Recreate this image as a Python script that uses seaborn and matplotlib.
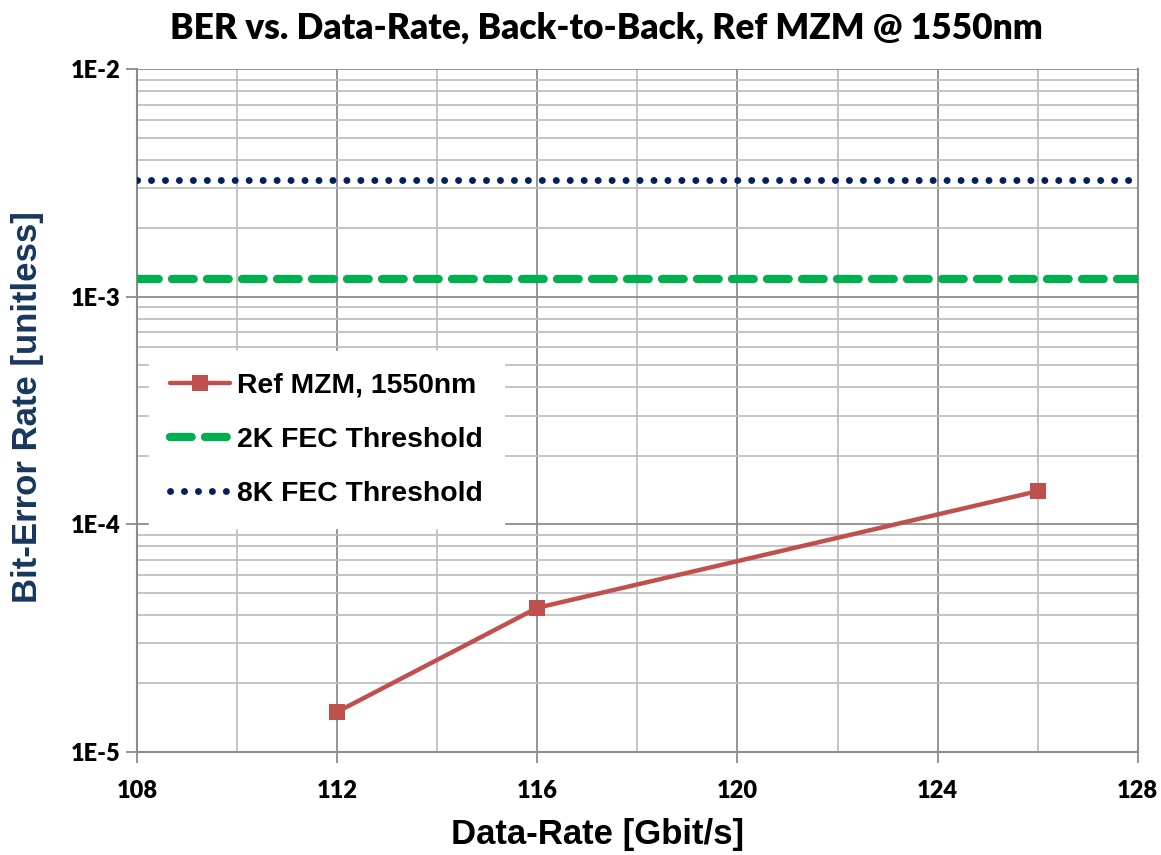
import matplotlib
matplotlib.use("Agg")
import matplotlib.pyplot as plt
import seaborn as sns
import numpy as np
import pandas as pd
from matplotlib.ticker import FixedLocator, NullFormatter, LogLocator

# Data
data_rate = [112, 116, 126]
ber_ref = [1.5e-5, 4.3e-5, 1.4e-4]
fec_x = [108, 128]
fec_2k = [1.2e-3, 1.2e-3]
fec_8k = [3.25e-3, 3.25e-3]
x_ticks = [108, 112, 116, 120, 124, 128]
y_ticks = [1e-5, 1e-4, 1e-3, 1e-2]
y_tick_labels = ["1E-5", "1E-4", "1E-3", "1E-2"]

sns.set_theme(style="white")
plt.rcParams['font.family'] = ['Liberation Sans', 'DejaVu Sans']
plt.rcParams['text.color'] = 'black'

fig = plt.figure(figsize=(11.61, 8.55), dpi=100)
ax = fig.add_axes([0.118, 0.1205, 0.862, 0.7985])

df_ref = pd.DataFrame({"x": data_rate, "y": ber_ref})
df_2k = pd.DataFrame({"x": fec_x, "y": fec_2k})
df_8k = pd.DataFrame({"x": fec_x, "y": fec_8k})

sns.lineplot(data=df_ref, x="x", y="y", ax=ax, color="#C0504D", lw=3.2,
             marker="s", markersize=12, markeredgewidth=0,
             label="Ref MZM, 1550nm", zorder=5)
sns.lineplot(data=df_2k, x="x", y="y", ax=ax, color="#00B050", lw=6,
             dashes=False, label="2K FEC Threshold", zorder=4)
ax.lines[-1].set_linestyle((0, (2.6, 1.6)))
ax.lines[-1].set_dash_capstyle("round")
sns.lineplot(data=df_8k, x="x", y="y", ax=ax, color="#002060", lw=5,
             label="8K FEC Threshold", zorder=4)
ax.lines[-1].set_linestyle((0, (0.01, 2.0)))
ax.lines[-1].set_dash_capstyle("round")

ax.set_yscale("log")
ax.set_xlim(108, 128)
ax.set_ylim(1e-5, 1e-2)

ax.xaxis.set_major_locator(FixedLocator(x_ticks))
ax.xaxis.set_minor_locator(FixedLocator([110, 114, 118, 122, 126]))
ax.yaxis.set_major_locator(FixedLocator(y_ticks))
ax.yaxis.set_minor_locator(LogLocator(base=10, subs=np.arange(2, 10)))
ax.yaxis.set_minor_formatter(NullFormatter())
ax.set_xticklabels([str(t) for t in x_ticks])
ax.set_yticklabels(y_tick_labels)

ax.grid(which="major", color="#8C8C8C", lw=1.3)
ax.grid(which="minor", color="#BFBFBF", lw=1.3)
ax.set_axisbelow(True)

for s in ["left", "bottom", "right", "top"]:
    ax.spines[s].set_color("#8C8C8C")
    ax.spines[s].set_linewidth(1.5)
ax.spines["top"].set_visible(False)

ax.tick_params(axis="both", which="major", length=8, width=1.3, color="#8C8C8C",
               direction="out", bottom=True, left=True)
ax.tick_params(axis="y", which="major", pad=4)
ax.tick_params(axis="x", which="major", pad=12)
ax.tick_params(axis="both", which="minor", length=0)
for lab in ax.get_xticklabels() + ax.get_yticklabels():
    lab.set_fontfamily(["Lato", "DejaVu Sans"])
    lab.set_fontweight("heavy")
    lab.set_fontsize(17)
    lab.set_color("black")

ax.set_xlabel("Data-Rate [Gbit/s]", fontsize=25, fontweight="bold", color="black", va="center")
ax.xaxis.set_label_coords(0.4605, -0.1215)
ax.set_ylabel("Bit-Error Rate [unitless]", fontsize=25, fontweight="bold", color="#17375E", va="center")
ax.yaxis.set_label_coords(-0.109, 0.505)
fig.suptitle("BER vs. Data-Rate, Back-to-Back, Ref MZM @ 1550nm",
             x=0.522, y=0.967, va="center",
             fontsize=25.4, fontweight="heavy", color="black",
             fontfamily=["Lato", "DejaVu Sans"])

leg = ax.legend(loc="upper left", bbox_to_anchor=(0.012, 0.587), frameon=True,
                fancybox=False, edgecolor="white", facecolor="white", framealpha=1,
                prop={"family": "Liberation Sans", "weight": "bold", "size": 20.4},
                handlelength=2.1, labelspacing=1.0, borderpad=0.75, handletextpad=0.25,
                borderaxespad=0)
for t in leg.get_texts():
    t.set_color("black")
leg.set_zorder(10)

fig.savefig("out.png", dpi=100)
